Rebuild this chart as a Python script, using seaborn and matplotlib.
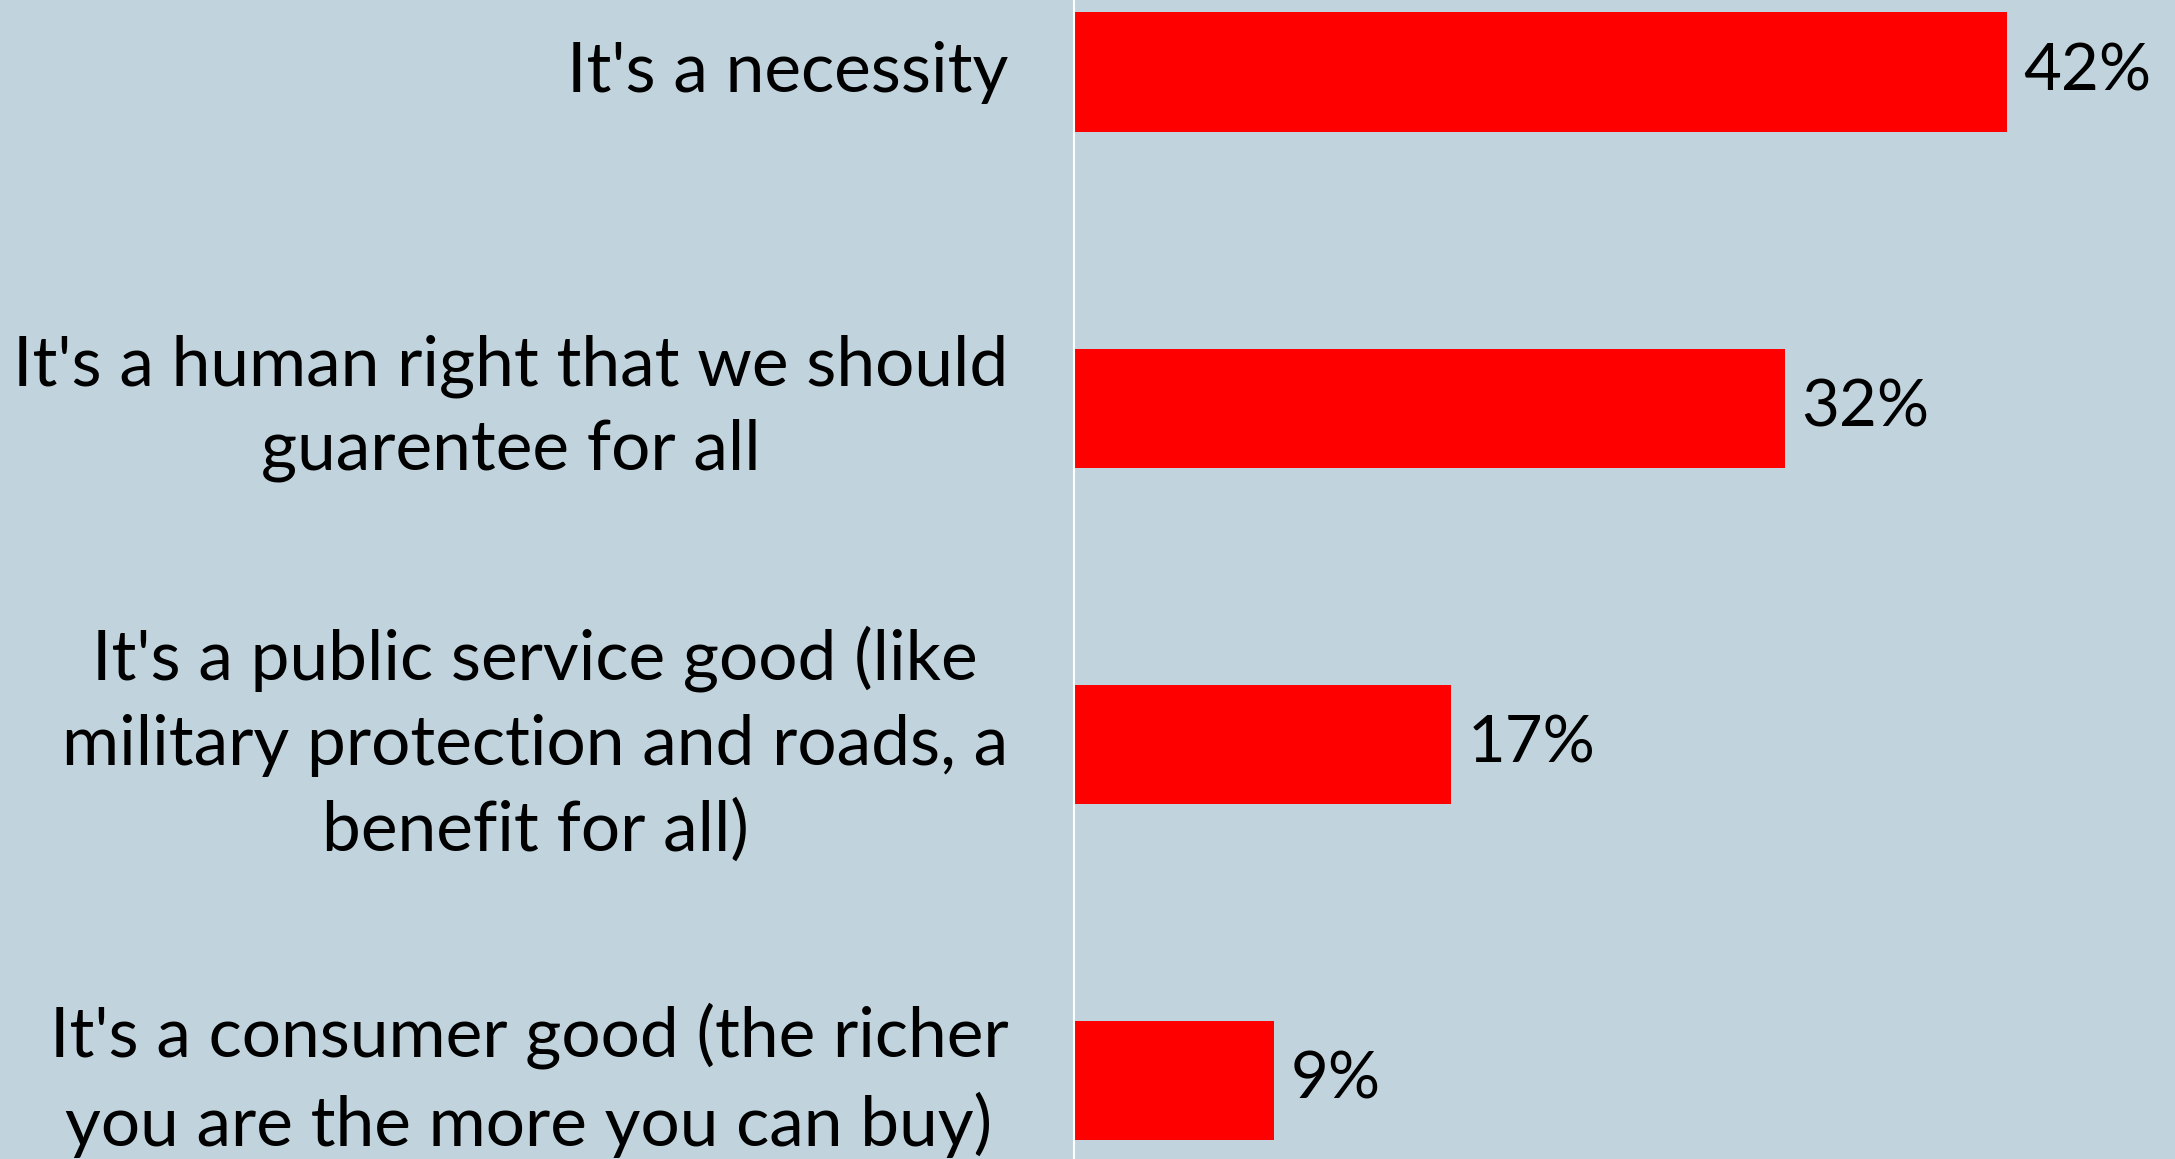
import matplotlib
matplotlib.use('Agg')
import matplotlib.pyplot as plt
import seaborn as sns
import pandas as pd

# survey answers and share of respondents (%)
categories = [
    "It's a necessity",
    "It's a human right that we should\nguarentee for all",
    "It's a public service good (like\nmilitary protection and roads, a\nbenefit for all)",
    "It's a consumer good (the richer\nyou are the more you can buy)",
]
percents = [42, 32, 17, 9]
value_labels = ['42%', '32%', '17%', '9%']


def main():
    df = pd.DataFrame({'answer': categories, 'pct': percents})

    sns.set_theme(style='white')
    plt.rcParams['font.family'] = ['Lato', 'DejaVu Sans']

    bg = '#C1D4DE'
    fig = plt.figure(figsize=(21.75, 11.59), dpi=100)
    fig.patch.set_facecolor(bg)
    left = 1073.6 / 2175
    ax = fig.add_axes([left, 0, 1 - left, 1])
    ax.set_facecolor(bg)

    sns.barplot(data=df, x='pct', y='answer', orient='h', color='#FF0000',
                width=0.355, saturation=1, linewidth=0, ax=ax)

    ax.set_xlim(0, 49.57)
    ax.set_ylim(3.2336, -0.2145)

    for i, v in enumerate(percents):
        ax.text(v + 0.75, i, value_labels[i], va='center', ha='left',
                fontsize=47, color='black')

    ax.set_xlabel('')
    ax.set_ylabel('')
    ax.set_xticks([])
    ax.tick_params(axis='y', length=0, pad=47, labelsize=50, labelcolor='black')
    for t in ax.get_yticklabels():
        t.set_multialignment('center')
        t.set_linespacing(1.42)
        t.set_verticalalignment('center')

    for s in ['top', 'right', 'bottom']:
        ax.spines[s].set_visible(False)
    ax.spines['left'].set_color('white')
    ax.spines['left'].set_linewidth(1.5)

    fig.savefig('out.png', dpi=100, facecolor=bg)
    plt.close(fig)


if __name__ == '__main__':
    main()
